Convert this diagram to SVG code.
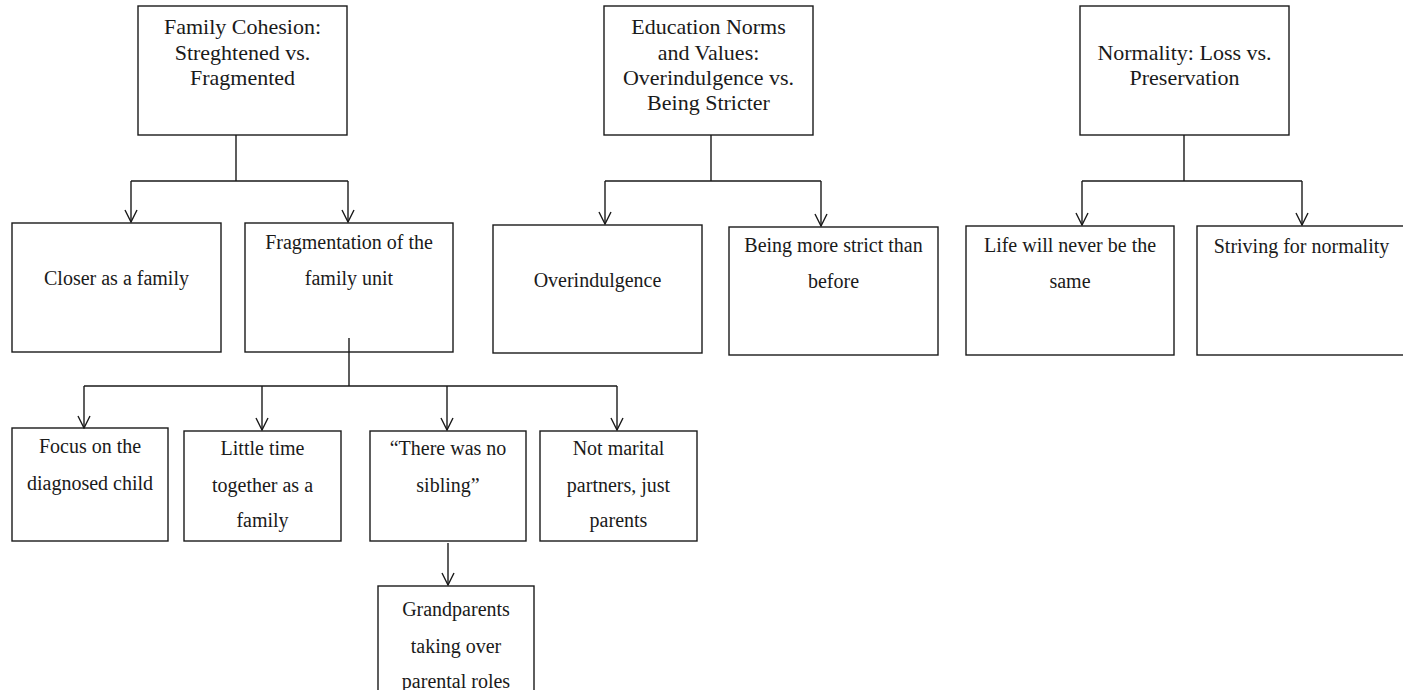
<svg xmlns="http://www.w3.org/2000/svg" width="1403" height="690" viewBox="0 0 1403 690">
  <defs>
    <style>
      .box { fill: #ffffff; stroke: #1a1a1a; stroke-width: 1.4; }
      .head { font-family: "Liberation Serif", "Times New Roman", serif; font-size: 22px; fill: #1a1a1a; text-anchor: middle; }
      .lbl { font-family: "Liberation Serif", "Times New Roman", serif; font-size: 20px; fill: #1a1a1a; text-anchor: middle; }
      .wire { fill: none; stroke: #1a1a1a; stroke-width: 1.4; }
    </style>
    <marker id="vee" viewBox="0 0 14 14" refX="13" refY="7" markerWidth="14" markerHeight="14" markerUnits="userSpaceOnUse" orient="auto">
      <path d="M1,1 L13,7 L1,13" fill="none" stroke="#1a1a1a" stroke-width="1.4"/>
    </marker>
  </defs>
  <rect width="1403" height="690" fill="#ffffff"/>

  <!-- top level themes -->
  <g id="family-cohesion">
    <rect class="box" x="138" y="6" width="209" height="129"/>
    <text class="head" x="242.5" y="34">Family Cohesion:</text>
    <text class="head" x="242.5" y="60">Streghtened vs.</text>
    <text class="head" x="242.5" y="85">Fragmented</text>
  </g>
  <g id="education-norms">
    <rect class="box" x="604" y="6" width="209" height="129"/>
    <text class="head" x="708.5" y="34">Education Norms</text>
    <text class="head" x="708.5" y="60">and Values:</text>
    <text class="head" x="708.5" y="85">Overindulgence vs.</text>
    <text class="head" x="708.5" y="110">Being Stricter</text>
  </g>
  <g id="normality">
    <rect class="box" x="1080" y="6" width="209" height="129"/>
    <text class="head" x="1184.5" y="60">Normality: Loss vs.</text>
    <text class="head" x="1184.5" y="85">Preservation</text>
  </g>

  <!-- sub-themes -->
  <g id="closer">
    <rect class="box" x="12" y="223" width="209" height="129"/>
    <text class="lbl" x="116.5" y="285">Closer as a family</text>
  </g>
  <g id="fragmentation">
    <rect class="box" x="245" y="223" width="208" height="129"/>
    <text class="lbl" x="349" y="249">Fragmentation of the</text>
    <text class="lbl" x="349" y="285">family unit</text>
  </g>
  <g id="overindulgence">
    <rect class="box" x="493" y="225" width="209" height="128"/>
    <text class="lbl" x="597.5" y="287">Overindulgence</text>
  </g>
  <g id="more-strict">
    <rect class="box" x="729" y="227" width="209" height="128"/>
    <text class="lbl" x="833.5" y="252">Being more strict than</text>
    <text class="lbl" x="833.5" y="288">before</text>
  </g>
  <g id="never-same">
    <rect class="box" x="966" y="226" width="208" height="129"/>
    <text class="lbl" x="1070" y="252">Life will never be the</text>
    <text class="lbl" x="1070" y="288">same</text>
  </g>
  <g id="striving">
    <rect class="box" x="1197" y="226" width="209" height="129"/>
    <text class="lbl" x="1301.5" y="253">Striving for normality</text>
  </g>

  <!-- fragmentation details -->
  <g id="focus-child">
    <rect class="box" x="12" y="428" width="156" height="113"/>
    <text class="lbl" x="90" y="453">Focus on the</text>
    <text class="lbl" x="90" y="490">diagnosed child</text>
  </g>
  <g id="little-time">
    <rect class="box" x="184" y="431" width="157" height="110"/>
    <text class="lbl" x="262.5" y="455">Little time</text>
    <text class="lbl" x="262.5" y="492">together as a</text>
    <text class="lbl" x="262.5" y="527">family</text>
  </g>
  <g id="no-sibling">
    <rect class="box" x="370" y="431" width="156" height="110"/>
    <text class="lbl" x="448" y="455">“There was no</text>
    <text class="lbl" x="448" y="492">sibling”</text>
  </g>
  <g id="not-partners">
    <rect class="box" x="540" y="431" width="157" height="110"/>
    <text class="lbl" x="618.5" y="455">Not marital</text>
    <text class="lbl" x="618.5" y="492">partners, just</text>
    <text class="lbl" x="618.5" y="527">parents</text>
  </g>
  <g id="grandparents">
    <rect class="box" x="378" y="586" width="156" height="120"/>
    <text class="lbl" x="456" y="616">Grandparents</text>
    <text class="lbl" x="456" y="653">taking over</text>
    <text class="lbl" x="456" y="688">parental roles</text>
  </g>

  <!-- connectors, drawn over the boxes so the stem inside "Fragmentation" shows -->
  <g id="connectors" class="wire">
    <!-- Family Cohesion branch -->
    <path d="M236,135 V181 M131,181 H348"/>
    <path d="M131,181 V222" marker-end="url(#vee)"/>
    <path d="M348,181 V222" marker-end="url(#vee)"/>
    <!-- Education branch -->
    <path d="M711,135 V181 M605,181 H821"/>
    <path d="M605,181 V224" marker-end="url(#vee)"/>
    <path d="M821,181 V226" marker-end="url(#vee)"/>
    <!-- Normality branch -->
    <path d="M1184,135 V181 M1082,181 H1302"/>
    <path d="M1082,181 V225" marker-end="url(#vee)"/>
    <path d="M1302,181 V225" marker-end="url(#vee)"/>
    <!-- Fragmentation sub-branches -->
    <path d="M349,338 V386 M84,386 H617"/>
    <path d="M84,386 V428" marker-end="url(#vee)"/>
    <path d="M262,386 V430" marker-end="url(#vee)"/>
    <path d="M447,386 V430" marker-end="url(#vee)"/>
    <path d="M617,386 V430" marker-end="url(#vee)"/>
    <!-- sibling to grandparents -->
    <path d="M448,543 V585" marker-end="url(#vee)"/>
  </g>
</svg>
